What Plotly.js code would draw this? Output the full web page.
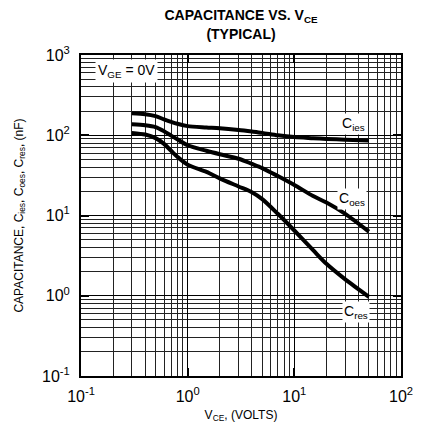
<!DOCTYPE html>
<html>
<head>
<meta charset="utf-8">
<script src="https://cdn.plot.ly/plotly-3.0.1.min.js"></script>
<style>html,body{margin:0;padding:0;background:#fff;}#chart{width:428px;height:426px;}</style>
</head>
<body>
<div id="chart"></div>
<script>
const vce = [0.3, 0.4, 0.5, 0.6, 0.7, 0.8, 1.0, 1.5, 2, 3, 4, 5, 7, 10, 15, 20, 30, 50];
const cies = [188, 183, 173, 158, 147, 139, 130, 125, 122, 116, 111, 107, 100, 95, 92, 90, 88, 86];
const coes = [137, 133, 126, 112, 99, 89, 75, 64, 58, 51, 44, 39, 31, 24, 17.5, 14.5, 10.5, 6.3];
const cres = [107, 102, 92, 78, 64, 54, 43, 35, 29, 23, 19.5, 16, 10.5, 6.5, 3.7, 2.5, 1.6, 0.97];
const seriesNames = ["C<sub>ies</sub>", "C<sub>oes</sub>", "C<sub>res</sub>"];
const xTickVals = [0.1, 1, 10, 100];
const xTickText = ["10<sup>-1</sup>", "10<sup>0</sup>", "10<sup>1</sup>", "10<sup>2</sup>"];
const yTickVals = [0.1, 1, 10, 100, 1000];
const yTickText = ["10<sup>-1</sup>", "10<sup>0</sup>", "10<sup>1</sup>", "10<sup>2</sup>", "10<sup>3</sup>"];

const FONT = "Liberation Sans, Arial, sans-serif";
const lineStyle = {color: "#000", width: 4, shape: "spline", smoothing: 0.8};
const traces = [cies, coes, cres].map((ys, i) => ({
  x: vce, y: ys, type: "scatter", mode: "lines", name: seriesNames[i],
  line: lineStyle, hoverinfo: "skip"
}));

const axisCommon = {
  type: "log", tickmode: "array",
  showline: true, linecolor: "#000", linewidth: 2, mirror: "ticks",
  ticks: "inside", ticklen: 8, tickwidth: 2, tickcolor: "#000",
  showgrid: true, gridcolor: "#000", gridwidth: 1,
  minor: {tickmode: "linear", dtick: "D1", showgrid: true, gridcolor: "#222", gridwidth: 1, ticks: ""},
  zeroline: false,
  tickfont: {family: FONT, size: 16, color: "#000"}
};

const layout = {
  width: 428, height: 426,
  margin: {l: 81, r: 27, t: 55, b: 50},
  paper_bgcolor: "#fff", plot_bgcolor: "#fff",
  showlegend: false,
  font: {family: FONT, color: "#000"},
  title: {
    text: "<b>CAPACITANCE VS. V<sub>CE</sub><br>(TYPICAL)</b>",
    font: {family: FONT, size: 14, color: "#000"},
    x: 0.5, xref: "paper", y: 0.952, yref: "container", yanchor: "middle"
  },
  xaxis: Object.assign({}, axisCommon, {
    range: [-1, 2], tickvals: xTickVals, ticktext: xTickText,
    ticklabelstandoff: 5,
    title: {text: "V<sub>CE</sub>, (VOLTS)", font: {family: FONT, size: 12, color: "#000"}, standoff: 6}
  }),
  yaxis: Object.assign({}, axisCommon, {
    range: [-1, 3], tickvals: yTickVals, ticktext: yTickText,
    ticklabelstandoff: 6,
    title: {text: "CAPACITANCE, C<sub>ies</sub>, C<sub>oes</sub>, C<sub>res</sub>, (nF)", font: {family: FONT, size: 12, color: "#000"}, standoff: 16}
  }),
  annotations: [
    {text: "V<sub>GE</sub> = 0V", x: -0.578, y: 2.80, xref: "x", yref: "y", showarrow: false,
     font: {family: FONT, size: 14, color: "#000"}, bgcolor: "#fff", borderpad: 2},
    {text: "C<sub>ies</sub>", x: Math.log10(36), y: Math.log10(140), xref: "x", yref: "y", showarrow: false,
     font: {family: FONT, size: 14, color: "#000"}, bgcolor: "#fff", borderpad: 1},
    {text: "C<sub>oes</sub>", x: Math.log10(35), y: Math.log10(16.2), xref: "x", yref: "y", showarrow: false,
     font: {family: FONT, size: 14, color: "#000"}, bgcolor: "#fff", borderpad: 1},
    {text: "C<sub>res</sub>", x: Math.log10(37.5), y: Math.log10(0.62), xref: "x", yref: "y", showarrow: false,
     font: {family: FONT, size: 14, color: "#000"}, bgcolor: "#fff", borderpad: 1}
  ]
};

Plotly.newPlot("chart", traces, layout, {staticPlot: true, displayModeBar: false});
</script>
</body>
</html>
